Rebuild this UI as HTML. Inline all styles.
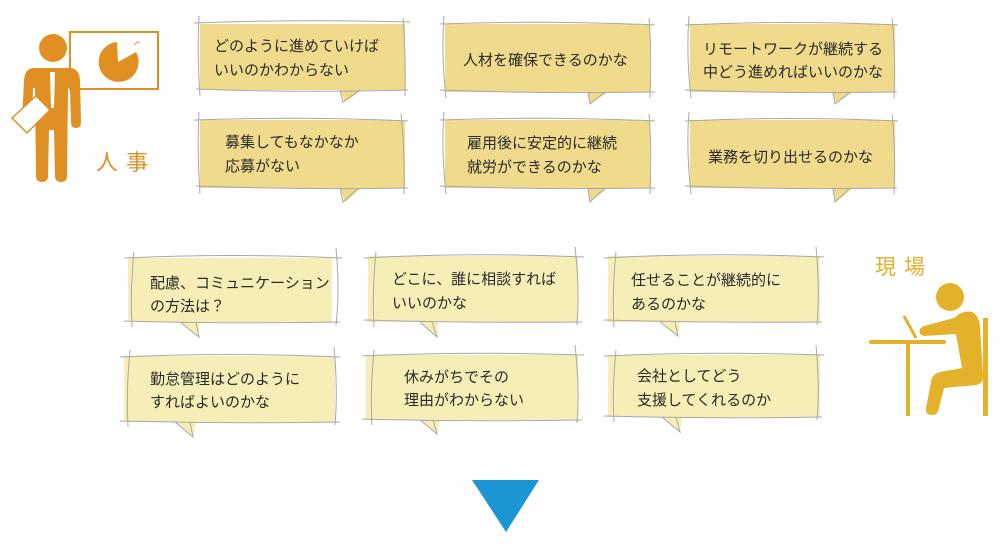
<!DOCTYPE html>
<html><head><meta charset="utf-8">
<style>
html,body{margin:0;padding:0;background:#fff;width:1000px;height:548px;overflow:hidden}
svg text{font-family:"Liberation Sans","Noto Sans CJK JP",sans-serif;font-size:15px;fill:#2a2a2a}
</style></head><body>
<svg width="1000" height="548" viewBox="0 0 1000 548" xmlns="http://www.w3.org/2000/svg">
<g>
 <rect x="200" y="24" width="205" height="66" fill="#f0da8c"/>
 <polygon points="340,90 362,90 345,102" fill="#f0da8c"/>
 <path d="M194 23 Q300 19 410 22 M196 89 Q300 93 408 90 M199 16 Q197 55 200 96 M403 18 Q406 55 405 96 M340 90 L343 102 L360 90" stroke="#a8a8a8" fill="none"/>
 <text x="214" y="51">どのように進めていけば</text>
 <text x="214" y="75">いいのかわからない</text>
 <rect x="445" y="24" width="205" height="68" fill="#f0da8c"/>
 <polygon points="588,92 608,92 590,104" fill="#f0da8c"/>
 <path d="M440 24 Q545 20 655 25 M440 90 Q545 94 655 92 M444 16 Q441 55 446 98 M649 18 Q652 55 650 98 M588 92 L590 104 L605 92" stroke="#a8a8a8" fill="none"/>
 <text x="463" y="65">人材を確保できるのかな</text>
 <rect x="690" y="24" width="205" height="68" fill="#f0da8c"/>
 <polygon points="833,92 853,92 836,104" fill="#f0da8c"/>
 <path d="M685 25 Q790 20 898 25 M685 90 Q790 94 897 92 M689 16 Q686 55 691 98 M892 18 Q896 55 894 98 M833 92 L835 104 L850 92" stroke="#a8a8a8" fill="none"/>
 <text x="703" y="54">リモートワークが継続する</text>
 <text x="703" y="77">中どう進めればいいのかな</text>
 <rect x="200" y="120" width="205" height="68" fill="#f0da8c"/>
 <polygon points="340,188 362,188 345,202" fill="#f0da8c"/>
 <path d="M194 120 Q300 116 408 121 M196 186 Q300 190 408 188 M199 112 Q197 150 200 194 M401 114 Q405 150 404 194 M340 188 L343 202 L358 188" stroke="#a8a8a8" fill="none"/>
 <text x="225" y="147">募集してもなかなか</text>
 <text x="225" y="171">応募がない</text>
 <rect x="445" y="120" width="205" height="68" fill="#f0da8c"/>
 <polygon points="588,188 608,188 590,202" fill="#f0da8c"/>
 <path d="M440 120 Q545 116 655 121 M440 186 Q545 190 655 188 M444 112 Q441 150 446 194 M649 114 Q652 150 650 194 M588 188 L590 202 L605 188" stroke="#a8a8a8" fill="none"/>
 <text x="467" y="148">雇用後に安定的に継続</text>
 <text x="467" y="172">就労ができるのかな</text>
 <rect x="690" y="120" width="205" height="68" fill="#f0da8c"/>
 <polygon points="833,188 853,188 836,202" fill="#f0da8c"/>
 <path d="M685 121 Q790 116 898 121 M685 186 Q790 190 897 188 M689 112 Q686 150 691 194 M892 114 Q896 150 894 194 M833 188 L835 202 L850 188" stroke="#a8a8a8" fill="none"/>
 <text x="708" y="162">業務を切り出せるのかな</text>
</g>
<g>
 <rect x="128" y="258" width="204" height="64" fill="#f5eeb6"/>
 <polygon points="180,322 200,322 198,337" fill="#f5eeb6"/>
 <path d="M124 258 Q230 253 342 258 M124 321 Q230 324 340 322 M134 252 Q130 290 132 327 M336 248 Q340 290 336 325 M180 322 L199 337 L196 322" stroke="#a8a8a8" fill="none"/>
 <text x="150" y="288">配慮、コミュニケーション</text>
 <text x="150" y="311">の方法は？</text>
 <rect x="368" y="256" width="210" height="66" fill="#f5eeb6"/>
 <polygon points="420,322 438,322 437,337" fill="#f5eeb6"/>
 <path d="M364 258 Q470 252 584 257 M364 320 Q470 323 582 322 M376 252 Q372 290 374 327 M575 247 Q580 290 577 325 M420 322 L437 337 L432 322" stroke="#a8a8a8" fill="none"/>
 <text x="392" y="284">どこに、誰に相談すれば</text>
 <text x="392" y="308">いいのかな</text>
 <rect x="608" y="256" width="212" height="66" fill="#f5eeb6"/>
 <polygon points="660,322 680,322 678,336" fill="#f5eeb6"/>
 <path d="M604 258 Q710 252 824 257 M604 320 Q710 323 822 322 M616 252 Q612 290 614 327 M816 247 Q820 290 817 325 M660 322 L678 336 L675 322" stroke="#a8a8a8" fill="none"/>
 <text x="631" y="285">任せることが継続的に</text>
 <text x="631" y="309">あるのかな</text>
 <rect x="124" y="356" width="211" height="66" fill="#f5eeb6"/>
 <polygon points="175,422 196,422 193,437" fill="#f5eeb6"/>
 <path d="M120 357 Q230 352 340 357 M120 421 Q230 424 340 422 M130 350 Q126 390 128 427 M334 347 Q338 390 335 425 M175 422 L193 437 L190 422" stroke="#a8a8a8" fill="none"/>
 <text x="150" y="384">勤怠管理はどのように</text>
 <text x="150" y="407">すればよいのかな</text>
 <rect x="366" y="355" width="212" height="65" fill="#f5eeb6"/>
 <polygon points="420,420 440,420 437,434" fill="#f5eeb6"/>
 <path d="M362 356 Q470 351 584 355 M362 419 Q470 422 582 420 M374 350 Q370 390 372 425 M575 345 Q580 390 577 423 M420 420 L437 434 L433 420" stroke="#a8a8a8" fill="none"/>
 <text x="404" y="382">休みがちでその</text>
 <text x="404" y="405">理由がわからない</text>
 <rect x="608" y="355" width="212" height="62" fill="#f5eeb6"/>
 <polygon points="662,417 682,417 680,432" fill="#f5eeb6"/>
 <path d="M604 356 Q710 351 824 355 M604 416 Q710 419 822 417 M616 350 Q612 390 614 422 M816 345 Q820 390 817 420 M662 417 L680 432 L676 417" stroke="#a8a8a8" fill="none"/>
 <text x="637" y="381">会社としてどう</text>
 <text x="637" y="405">支援してくれるのか</text>
</g>
<g fill="#e09022">
 <rect x="70" y="32" width="88" height="57" fill="none" stroke="#e09022" stroke-width="2"/>
 <path d="M118 62 L136 52 A20 20 0 1 1 117 42 Z"/>
 <path d="M134 45 L138 42 L140 42" stroke="#e09022" fill="none" stroke-width="1"/>
 <circle cx="53" cy="48" r="14"/>
 <path d="M34 68 Q25 68 24 80 L22 122 Q22 128 28 128 Q32 128 32 122 L33 88 L35 88 L36 176 Q36 182 42 182 Q48 182 48 176 L49 130 L54 130 L55 176 Q55 182 61 182 Q67 182 67 176 L68 88 L70 88 L71 122 Q71 128 76 128 Q81 128 81 122 L80 80 Q79 68 70 68 Z"/>
 <polygon points="50,72 55,72 54,108 51,108" fill="#fff"/>
 <polygon points="12,118 36,96 50,110 27,133" fill="#fff" stroke="#e09022" stroke-width="1.5"/>
</g>
<text x="96" y="170" style="font-size:22px;fill:#e09022;letter-spacing:8px">人事</text>
<text x="875" y="274" style="font-size:21px;fill:#e3b02a;letter-spacing:8px">現場</text>
<g fill="#e3b22a" stroke="#e3b22a">
 <circle cx="950" cy="297" r="14" stroke="none"/>
 <rect x="869" y="340" width="77" height="4" rx="2" stroke="none"/>
 <rect x="906" y="342" width="4" height="74" stroke="none"/>
 <path d="M904 316 L916 338" stroke-width="3" fill="none"/>
 <rect x="983" y="318" width="5" height="98" stroke="none"/>
 <path d="M972 312 Q962 310 954 318 L924 326 Q918 328 920 334 L924 336 L956 334 L962 368 L940 372 Q932 374 931 382 L926 408 Q925 415 932 415 Q938 415 939 408 L944 388 L976 385 Q984 384 983 374 L980 326 Q978 314 972 312 Z" stroke="none"/>
</g>
<polygon points="472,480 539,480 506,532" fill="#1b96d3"/>
</svg>
</body></html>
